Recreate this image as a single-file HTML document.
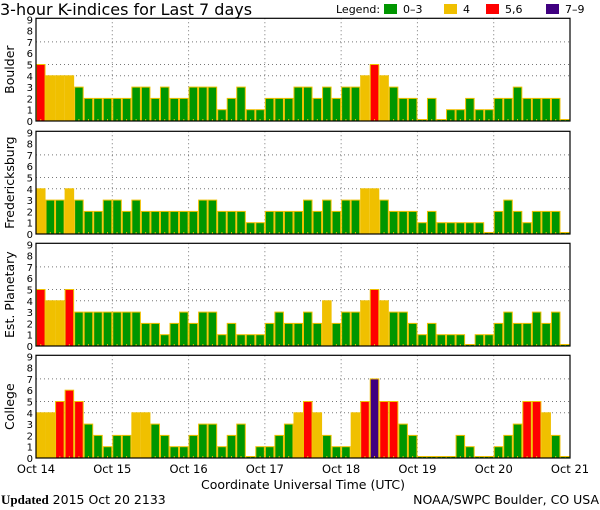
<!DOCTYPE html>
<html><head><meta charset="utf-8"><style>
body{margin:0;background:#fff;width:600px;height:510px;overflow:hidden}
svg{display:block;font-family:"DejaVu Sans","Liberation Sans",sans-serif}
</style></head><body>
<svg id="chart" width="600" height="510" viewBox="0 0 600 510" xmlns="http://www.w3.org/2000/svg">
<text x="0" y="15" font-size="16" fill="#000">3-hour K-indices for Last 7 days</text>
<g font-size="11">
<text x="336" y="13">Legend:</text>
<rect x="384" y="4" width="13" height="10" fill="#009600"/><text x="403" y="13">0–3</text>
<rect x="444" y="4" width="13" height="10" fill="#f0c000"/><text x="463" y="13">4</text>
<rect x="486" y="4" width="13" height="10" fill="#ff0000"/><text x="505" y="13">5,6</text>
<rect x="546" y="4" width="13" height="10" fill="#400080"/><text x="565" y="13">7–9</text>
</g>
<g id="panels"></g>
<text x="303" y="489" font-size="12.5" text-anchor="middle">Coordinate Universal Time (UTC)</text>
<text x="1" y="504" font-size="13" font-family="Liberation Serif,serif"><tspan font-weight="bold">Updated</tspan><tspan font-family="DejaVu Sans,sans-serif" font-size="12.5"> 2015 Oct 20 2133</tspan></text>
<text x="599" y="504" font-size="12.5" text-anchor="end">NOAA/SWPC Boulder, CO USA</text>
</svg>
<script>
const stations = ["Boulder","Fredericksburg","Est. Planetary","College"];
const dayLabels = ["Oct 14","Oct 15","Oct 16","Oct 17","Oct 18","Oct 19","Oct 20","Oct 21"];
const boulder = [5,4,4,4,3,2,2,2,2,2,3,3,2,3,2,2,3,3,3,1,2,3,1,1,2,2,2,3,3,2,3,2,3,3,4,5,4,3,2,2,0,2,0,1,1,2,1,1,2,2,3,2,2,2,2,0];
const fredericksburg = [4,3,3,4,3,2,2,3,3,2,3,2,2,2,2,2,2,3,3,2,2,2,1,1,2,2,2,2,3,2,3,2,3,3,4,4,3,2,2,2,1,2,1,1,1,1,1,0,2,3,2,1,2,2,2,0];
const planetary = [5,4,4,5,3,3,3,3,3,3,3,2,2,1,2,3,2,3,3,1,2,1,1,1,2,3,2,2,3,2,4,2,3,3,4,5,4,3,3,2,1,2,1,1,1,0,1,1,2,3,2,2,3,2,3,0];
const college = [4,4,5,6,5,3,2,1,2,2,4,4,3,2,1,1,2,3,3,1,2,3,0,1,1,2,3,4,5,4,2,1,1,4,5,7,5,5,3,2,0,0,0,0,2,1,0,0,1,2,3,5,5,4,2,0];
const series = [boulder,fredericksburg,planetary,college];
const yTicks = [0,1,2,3,4,5,6,7,8,9];

const NS="http://www.w3.org/2000/svg";
const X0=36, X1=570, N=56, UNIT=11.3;
const bottoms=[121,234,346,458];
const bw=(X1-X0)/N;
function xAt(i){return X0+i*bw;}
function yAt(p,v){return bottoms[p]-v*UNIT;}
function color(v){return v>=7?"#400080":v>=5?"#ff0000":v>=4?"#f0c000":"#009600";}
function mk(tag,attrs,parent){const e=document.createElementNS(NS,tag);for(const k in attrs)e.setAttribute(k,attrs[k]);parent.appendChild(e);return e;}
const root=document.getElementById("panels");
series.forEach((vals,p)=>{
  const g=mk("g",{},root);
  
  
  const top=yAt(p,9)-1, bot=bottoms[p];
  [4,5,7].forEach(v=>{const l=mk("line",{x1:X0,x2:X1,y1:yAt(p,v),y2:yAt(p,v),stroke:"#777","stroke-dasharray":"1,3"},g);
    
    });
  for(let d=1;d<7;d++){const x=xAt(d*8);const l=mk("line",{x1:x,x2:x,y1:top,y2:bot,stroke:"#777","stroke-dasharray":"1,3"},g);
    
    }
  vals.forEach((v,i)=>{
    const h=Math.max(v*UNIT,1.5);
    const r=mk("rect",{x:xAt(i)+0.5,y:bot-h,width:bw-1,height:h,fill:color(v),stroke:"#f0c000","stroke-width":1},g);
    
    
    const t=mk("rect",{x:xAt(i)+bw/2-0.5,y:bot-2,width:1,height:2,fill:"#f0c000"},g);
    
    
  });
  const f=mk("rect",{x:X0,y:top,width:X1-X0,height:bot-top,fill:"none",stroke:"#000","stroke-width":1.2},g);
  
  
  yTicks.forEach(v=>{const t=mk("text",{x:33,y:yAt(p,v)+4,"font-size":10,"text-anchor":"end"},g);t.textContent=v;
    
    });
  const cy=(top+bot)/2;
  const s=mk("text",{x:0,y:0,"font-size":12.5,"text-anchor":"middle",transform:"translate(14,"+cy+") rotate(-90)"},g);
  s.textContent=stations[p];
  
  
});
dayLabels.forEach((lab,d)=>{
  const t=mk("text",{x:xAt(d*8),y:473,"font-size":11.5,"text-anchor":"middle"},root);
  t.textContent=lab;
  
  
});
</script>
</body></html>
